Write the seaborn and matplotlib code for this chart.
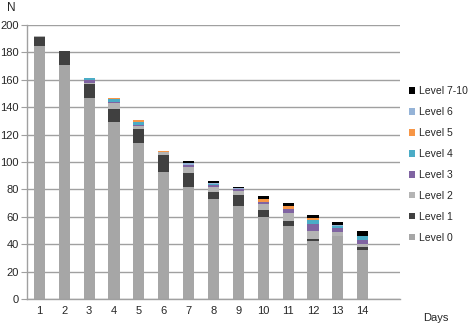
import matplotlib
matplotlib.use("Agg")
import matplotlib.pyplot as plt
import seaborn as sns
import pandas as pd
import numpy as np
from matplotlib.ticker import FixedLocator

days = list(range(1, 15))
levels = ["Level 0", "Level 1", "Level 2", "Level 3", "Level 4", "Level 5", "Level 6", "Level 7-10"]
level0 = [185, 171, 147, 129, 114, 93, 82, 73, 68, 60, 53, 42, 46, 36]
level1 = [6, 10, 10, 10, 10, 12, 10, 5, 8, 5, 4, 2, 0, 2]
level2 = [1, 0, 1, 4, 2, 2, 4, 4, 3, 4, 6, 6, 3, 2]
level3 = [0, 0, 2, 1, 1, 0, 2, 1, 1, 2, 3, 5, 3, 3]
level4 = [0, 0, 1, 2, 2, 0, 0, 1, 0, 0, 0, 3, 1, 3]
level5 = [0, 0, 0, 1, 2, 1, 0, 0, 0, 2, 2, 1, 0, 0]
level6 = [0, 0, 0, 0, 0, 0, 1, 1, 1, 0, 0, 0, 1, 0]
level7 = [0, 0, 0, 0, 0, 0, 2, 1, 1, 2, 2, 2, 2, 4]
series = [level0, level1, level2, level3, level4, level5, level6, level7]
colors = ["#A6A6A6", "#404040", "#B4B4B4", "#8064A2", "#4BACC6", "#F79646", "#95B3D7", "#000000"]

rows = []
for lev, vals in zip(levels, series):
    for d, v in zip(days, vals):
        rows.append({"day": d, "n": v, "level": lev})
df = pd.DataFrame(rows)

sns.set_style("white")
plt.rcParams["font.family"] = ["Liberation Sans", "DejaVu Sans"]

fig = plt.figure(figsize=(4.72, 3.27), dpi=100)
ax = fig.add_axes([27/472, 28/327, 373/472, 274/327])

hue_order = levels[::-1]
palette = dict(zip(levels, colors))
sns.histplot(data=df, x="day", weights="n", hue="level", hue_order=hue_order,
             multiple="stack", discrete=True, shrink=0.45, palette=palette,
             alpha=1, linewidth=0, ax=ax, legend=True)

ax.set_xlim(0.5, 15.5)
ax.set_ylim(0, 200)
ax.set_yticks(range(0, 201, 20))
ax.set_xticks(days)
ax.set_xticklabels([str(d) for d in days], fontsize=8)
ax.xaxis.set_minor_locator(FixedLocator(np.arange(0.5, 15.6, 1)))
ax.tick_params(axis="x", which="major", length=0, pad=5)
ax.tick_params(axis="x", which="minor", length=4, color="#A0A0A0", direction="out")
ax.tick_params(axis="y", length=4, color="#A0A0A0", labelsize=8, pad=2, left=True)
ax.yaxis.grid(True, color="#A0A0A0", linewidth=1)
ax.set_axisbelow(True)
for s in ["top", "right"]:
    ax.spines[s].set_visible(False)
for s in ["left", "bottom"]:
    ax.spines[s].set_color("#A0A0A0")
    ax.spines[s].set_linewidth(1)
ax.set_xlabel("")
ax.set_ylabel("")

sns.move_legend(ax, "upper left", bbox_to_anchor=(405/472, 1 - 82/327),
                bbox_transform=fig.transFigure, frameon=False, title=None,
                fontsize=7.5, handlelength=0.6, handleheight=0.6,
                labelspacing=1.05, handletextpad=0.35, borderaxespad=0)

fig.text(7/472, 1 - 8/327, "N", fontsize=8.5, va="center", ha="left")
fig.text(423/472, 1 - 318/327, "Days", fontsize=8, va="center", ha="left")

fig.savefig("out.png", dpi=100)
